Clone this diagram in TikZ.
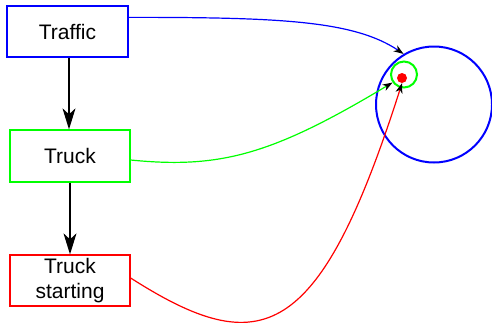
\documentclass[tikz,border=0pt]{standalone}
\usepackage{fontspec}
\setmainfont{Liberation Sans}
\usetikzlibrary{arrows.meta}
\definecolor{cblue}{RGB}{0,0,255}
\definecolor{cgreen}{RGB}{0,255,0}
\definecolor{cred}{RGB}{255,0,0}
\begin{document}
\begin{tikzpicture}[x=1pt,y=-1pt,
  box/.style={draw, line width=1.3pt, rectangle, inner sep=0pt, align=center,
    font=\fontsize{21}{24.5}\selectfont},
  flow/.style={line width=1.3pt, -{Stealth[length=21pt,width=13pt,inset=6pt]}},
  link/.style={line width=1.2pt, -{Stealth[length=10pt,width=7pt,inset=3pt,black]}},
  ring/.style={draw, circle, line width=2pt, inner sep=0pt}]
\useasboundingbox (0,0) rectangle (492,324);
\node[box, cblue, text=black, minimum width=121pt, minimum height=51pt] (traffic) at (67.5,31.5) {Traffic};
\node[box, cgreen, text=black, minimum width=120pt, minimum height=52pt] (truck) at (70,156) {Truck};
\node[box, cred, text=black, minimum width=120pt, minimum height=51pt] (start) at (70,280.5) {Truck\\starting};
\node[ring, cblue, minimum size=116pt] (big) at (434,104.5) {};
\node[ring, cgreen, minimum size=26pt] (gc) at (404,74.5) {};
\node[circle, fill=cred, inner sep=0pt, minimum size=10pt] (dot) at (402,78) {};
\draw[flow] ([xshift=1.5pt]traffic.south) -- ([xshift=1.5pt]traffic.south |- truck.north);
\draw[flow] (truck.south) -- (truck.south |- start.north);
\draw[link, cblue] ([yshift=-12pt]traffic.north east) .. controls +(150,0) and +(-50,-33.5) .. (big.121);
\draw[link, cgreen] ([yshift=-4pt]truck.east) .. controls +(90,9) and +(-120,72) .. (gc.215);
\draw[link, cred] ([yshift=2.5pt]start.east) .. controls +(130,83) and +(-83,260) .. (dot.south);
\end{tikzpicture}
\end{document}
